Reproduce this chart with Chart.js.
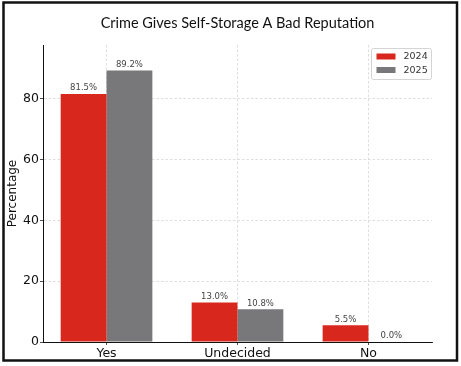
<!DOCTYPE html>
<html>
<head>
<meta charset="utf-8">
<script src="https://cdn.jsdelivr.net/npm/chart.js@4/dist/chart.umd.min.js"></script>
<style>
    html, body { margin: 0; padding: 0; background: #fff; }
    #wrap { width: 461px; height: 366px; position: relative; }
</style>
</head>
<body>
<div id="wrap"><canvas id="crimeChart" width="461" height="366"></canvas></div>
<script>
// ===================================
// DATA
// ===================================

const chartTitle = 'Crime Gives Self-Storage A Bad Reputation';
const categories = ['Yes', 'Undecided', 'No'];
const seriesLabels = ['2024', '2025'];
const values2024 = [81.5, 13.0, 5.5];
const values2025 = [89.2, 10.8, 0.0];
const yTicks = [0, 20, 40, 60, 80];

const RED = '#d8281d';
const GREY = '#78787b';
const FONT = "'DejaVu Sans', sans-serif";

// ===================================
// PLUGINS
// ===================================

// white background + black frame
const framePlugin = {
    id: 'frame',
    beforeDraw(chart) {
        const ctx = chart.ctx;
        ctx.save();
        ctx.fillStyle = '#fff';
        ctx.fillRect(0, 0, chart.width, chart.height);
        ctx.restore();
    },
    afterDraw(chart) {
        const ctx = chart.ctx;
        ctx.save();
        ctx.strokeStyle = '#111';
        ctx.lineWidth = 2.5;
        ctx.strokeRect(3.5, 2.5, 453.5, 358);
        ctx.restore();
    }
};

// title centred over the plot area
const titlePlugin = {
    id: 'plotTitle',
    afterDraw(chart) {
        const ctx = chart.ctx;
        const area = chart.chartArea;
        ctx.save();
        ctx.font = "14.5px Lato, sans-serif";
        ctx.fillStyle = '#111';
        ctx.textAlign = 'center';
        ctx.textBaseline = 'alphabetic';
        ctx.fillText(chartTitle, (area.left + area.right) / 2, 28);
        ctx.restore();
    }
};

// value labels on top of each bar
const barLabelPlugin = {
    id: 'barLabels',
    afterDatasetsDraw(chart) {
        const ctx = chart.ctx;
        ctx.save();
        ctx.font = '8.5px ' + FONT;
        ctx.fillStyle = '#444';
        ctx.textAlign = 'center';
        ctx.textBaseline = 'bottom';
        chart.data.datasets.forEach((ds, i) => {
            chart.getDatasetMeta(i).data.forEach((bar, j) => {
                ctx.fillText(ds.data[j].y.toFixed(1) + '%', bar.x, bar.y - 1.5);
            });
        });
        ctx.restore();
    }
};

// matplotlib-like boxed legend in the upper right
const legendBoxPlugin = {
    id: 'legendBox',
    afterDraw(chart) {
        const ctx = chart.ctx;
        const area = chart.chartArea;
        const w = 60, h = 31;
        const x = area.right - w - 0.5;
        const y = area.top + 3.5;
        ctx.save();
        ctx.fillStyle = 'rgba(255,255,255,0.85)';
        ctx.strokeStyle = '#d4d4d4';
        ctx.lineWidth = 1;
        ctx.beginPath();
        ctx.roundRect(x, y, w, h, 2);
        ctx.fill();
        ctx.stroke();
        ctx.font = '9.5px ' + FONT;
        ctx.textBaseline = 'middle';
        chart.data.datasets.forEach((ds, i) => {
            const rowY = y + 8 + i * 13.5;
            ctx.fillStyle = ds.backgroundColor;
            ctx.fillRect(x + 5, rowY - 3, 19, 6);
            ctx.fillStyle = '#333';
            ctx.fillText(ds.label, x + 32, rowY + 0.5);
        });
        ctx.restore();
    }
};

// ===================================
// CHART
// ===================================

function toPoints(values) {
    return values.map((v, i) => ({ x: i, y: v }));
}

function initCrimeChart() {
    const ctx = document.getElementById('crimeChart').getContext('2d');

    new Chart(ctx, {
        type: 'bar',
        data: {
            datasets: [
                {
                    label: seriesLabels[0],
                    data: toPoints(values2024),
                    backgroundColor: RED,
                    borderWidth: 0
                },
                {
                    label: seriesLabels[1],
                    data: toPoints(values2025),
                    backgroundColor: GREY,
                    borderWidth: 0
                }
            ]
        },
        options: {
            responsive: false,
            animation: false,
            events: [],
            categoryPercentage: 0.7,
            barPercentage: 1.0,
            layout: {
                padding: { left: 0, top: 45, right: 29, bottom: 0 }
            },
            plugins: {
                legend: { display: false },
                title: { display: false },
                tooltip: { enabled: false }
            },
            scales: {
                x: {
                    type: 'linear',
                    min: -0.485,
                    max: categories.length - 1 + 0.485,
                    offset: false,
                    afterBuildTicks: (scale) => {
                        scale.ticks = categories.map((c, i) => ({ value: i }));
                    },
                    afterFit: (scale) => { scale.height = 24; },
                    ticks: {
                        callback: (value) => categories[value],
                        color: '#111',
                        font: { family: FONT, size: 12.5 },
                        padding: 1,
                        maxRotation: 0,
                        autoSkip: false
                    },
                    grid: {
                        offset: false,
                        color: '#d6d6d6',
                        lineWidth: 0.8,
                        tickLength: 3,
                        tickColor: '#222'
                    },
                    border: { color: '#111', width: 1, dash: [2.5, 2] }
                },
                y: {
                    min: 0,
                    max: 97.6,
                    afterBuildTicks: (scale) => {
                        scale.ticks = yTicks.map(v => ({ value: v }));
                    },
                    afterFit: (scale) => { scale.width = 43; },
                    ticks: {
                        color: '#111',
                        font: { family: FONT, size: 12.5 },
                        padding: 1
                    },
                    grid: {
                        color: '#d6d6d6',
                        lineWidth: 0.8,
                        tickLength: 3,
                        tickColor: '#222'
                    },
                    border: { color: '#111', width: 1, dash: [2.5, 2] },
                    title: {
                        display: true,
                        text: 'Percentage',
                        color: '#111',
                        font: { family: FONT, size: 12 },
                        padding: { top: 6, bottom: 0 }
                    }
                }
            }
        },
        plugins: [framePlugin, titlePlugin, barLabelPlugin, legendBoxPlugin]
    });
}

window.addEventListener('DOMContentLoaded', () => {
    initCrimeChart();
});
</script>
</body>
</html>
